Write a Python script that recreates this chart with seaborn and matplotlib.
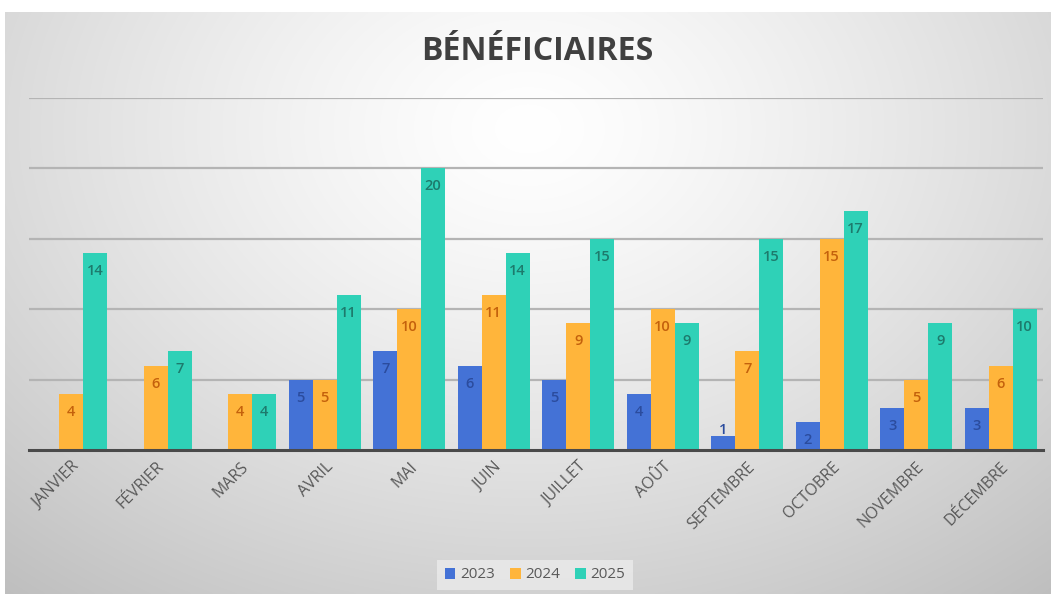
import numpy as np
import pandas as pd
import matplotlib
matplotlib.use("Agg")
import matplotlib.pyplot as plt
import seaborn as sns
from matplotlib.patches import Patch

# Data
months = ["JANVIER", "FÉVRIER", "MARS", "AVRIL", "MAI", "JUIN", "JUILLET",
          "AOÛT", "SEPTEMBRE", "OCTOBRE", "NOVEMBRE", "DÉCEMBRE"]
years = ["2023", "2024", "2025"]
v2023 = [0, 0, 0, 5, 7, 6, 5, 4, 1, 2, 3, 3]
v2024 = [4, 6, 4, 5, 10, 11, 9, 10, 7, 15, 5, 6]
v2025 = [14, 7, 4, 11, 20, 14, 15, 9, 15, 17, 9, 10]

bar_colors = ["#4472d6", "#ffb53b", "#2fd1b7"]
label_colors = ["#2b4c9e", "#c4610c", "#1d7a6c"]

df = pd.DataFrame({
    "mois": months * 3,
    "annee": [y for y in years for _ in months],
    "valeur": v2023 + v2024 + v2025,
})

sns.set_style("white")
plt.rcParams["font.family"] = ["Open Sans", "DejaVu Sans"]

W, H = 1051, 594
fig = plt.figure(figsize=(W / 100, H / 100), dpi=100)
fig.patch.set_facecolor("white")

# Radial gradient background
bg = fig.add_axes([5 / W, 0, 1 - 5 / W, 1 - 12 / H])
yy, xx = np.mgrid[0:1:300j, 0:1:500j]
r = np.sqrt(((xx - 0.5) / 0.75) ** 2 + ((yy - 0.2) / 1.0) ** 2)
shade = 1.0 - 0.24 * np.clip(r, 0, 1.2) ** 1.3
bg.imshow(np.dstack([shade] * 3), aspect="auto", extent=[0, 1, 1, 0], interpolation="bilinear")
bg.set_axis_off()
bg.set_zorder(-5)

ax = fig.add_axes([29 / W, 1 - 450 / H, 1014 / W, 352 / H])
ax.set_facecolor("none")
sns.barplot(data=df, x="mois", y="valeur", hue="annee", order=months, hue_order=years,
            palette=bar_colors, width=0.85, gap=0, saturation=1, legend=False,
            edgecolor="none", linewidth=0, ax=ax)

ax.set_ylim(0, 25)
ax.set_xlim(-0.5, 11.5)
ax.set_yticks([5, 10, 15, 20, 25])
ax.yaxis.grid(True, color="#b4b4b4", linewidth=1.6)
ax.set_axisbelow(True)
ax.tick_params(axis="y", left=False, labelleft=False)
ax.tick_params(axis="x", bottom=False, pad=3)
for s in ["top", "right", "left"]:
    ax.spines[s].set_visible(False)
ax.spines["bottom"].set_color("#4a4a4a")
ax.spines["bottom"].set_linewidth(2.2)
ax.set_xlabel("")
ax.set_ylabel("")
plt.setp(ax.get_xticklabels(), rotation=45, ha="right", rotation_mode="anchor",
         fontsize=11.5, color="#595959")

# Value labels inside the bar ends
for cont, col in zip(ax.containers, label_colors):
    for bar in cont:
        v = bar.get_height()
        if v <= 0:
            continue
        off = -13 if v >= 2 else 4
        ax.annotate(f"{v:g}", (bar.get_x() + bar.get_width() / 2, v),
                    xytext=(0, off), textcoords="offset points",
                    ha="center", va="center", fontsize=10.5, fontweight="semibold", color=col)

fig.text(537 / W, 1 - 52 / H, "BÉNÉFICIAIRES", ha="center", va="center",
         fontsize=23, fontweight="bold", color="#404040")

handles = [Patch(facecolor=c, edgecolor="none") for c in bar_colors]
leg = fig.legend(handles, years, loc="center", bbox_to_anchor=(535 / W, 1 - 575 / H),
                 ncol=3, frameon=True, fontsize=11, handlelength=0.7, handleheight=0.7,
                 handletextpad=0.3, columnspacing=1.0, borderpad=0.5, fancybox=False)
leg.get_frame().set_facecolor("#ebebeb")
leg.get_frame().set_edgecolor("none")
leg.get_frame().set_alpha(0.8)
for t in leg.get_texts():
    t.set_color("#595959")

fig.savefig("out.png", dpi=100)
